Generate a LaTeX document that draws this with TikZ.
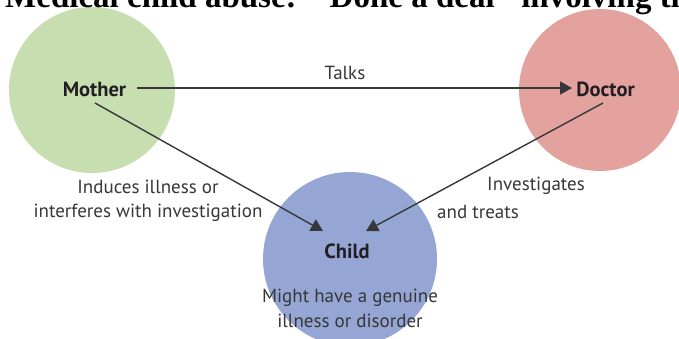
\documentclass[tikz,border=0pt]{standalone}
\usepackage{fontspec}
\setmainfont{PT Sans}
\newfontfamily\titlefont{Liberation Serif}
\usetikzlibrary{arrows.meta}
\definecolor{cgreen}{RGB}{199,222,176}
\definecolor{cred}{RGB}{227,162,158}
\definecolor{cblue}{RGB}{149,166,213}
\definecolor{ctext}{RGB}{55,55,55}
\definecolor{cdark}{RGB}{35,30,35}
\definecolor{cline}{RGB}{55,55,60}
\tikzset{
  party/.style={circle, inner sep=0pt, minimum size=#1},
  who/.style={font=\fontsize{20.5}{24}\selectfont\bfseries, text=cdark, inner sep=0pt},
  lbl/.style={font=\fontsize{19}{22}\selectfont, text=ctext, inner sep=0pt},
  link/.style={draw=cline, line width=1.4pt, -{Triangle[length=12pt,width=13pt]}},
}
\begin{document}
\begin{tikzpicture}[x=1pt,y=-1pt]
\useasboundingbox (0,0) rectangle (679,338);
\begin{scope}
\clip (0,0) rectangle (679,338);
\node[party=166pt, fill=cgreen] (cm) at (92,90) {};
\node[party=162pt, fill=cred] (cd) at (600,90) {};
\node[party=174pt, fill=cblue] (cc) at (350,259) {};
\node[anchor=base west, inner sep=0pt, font=\titlefont\fontsize{33}{36}\selectfont\bfseries] (title) at (5,7) {Medical child abuse: ``Done a deal'' involving three parties};
\end{scope}
\node[who] (mother) at (94.5,89) {Mother};
\node[who] (doctor) at (605.5,89) {Doctor};
\node[who] (child) at (347,251) {Child};
\node[lbl] (talks) at (345,73) {Talks};
\node[lbl] (ind1) at (148,187) {Induces illness or};
\node[lbl] (ind2) at (148,213) {interferes with investigation};
\node[lbl] (inv1) at (536,186) {Investigates};
\node[lbl] (inv2) at (478,212) {and treats};
\node[lbl] (gen1) at (350,298) {Might have a genuine};
\node[lbl] (gen2) at (350,321) {illness or disorder};
\coordinate (mA) at (137,88);
\coordinate (dA) at (572,88);
\coordinate (mB) at (95,103);
\coordinate (cB) at (323,231);
\coordinate (dB) at (603,103);
\coordinate (cC) at (366,231);
\draw[link, line width=1.8pt] (mA) -- (dA);
\draw[link] (mB) -- (cB);
\draw[link] (dB) -- (cC);
\end{tikzpicture}
\end{document}
